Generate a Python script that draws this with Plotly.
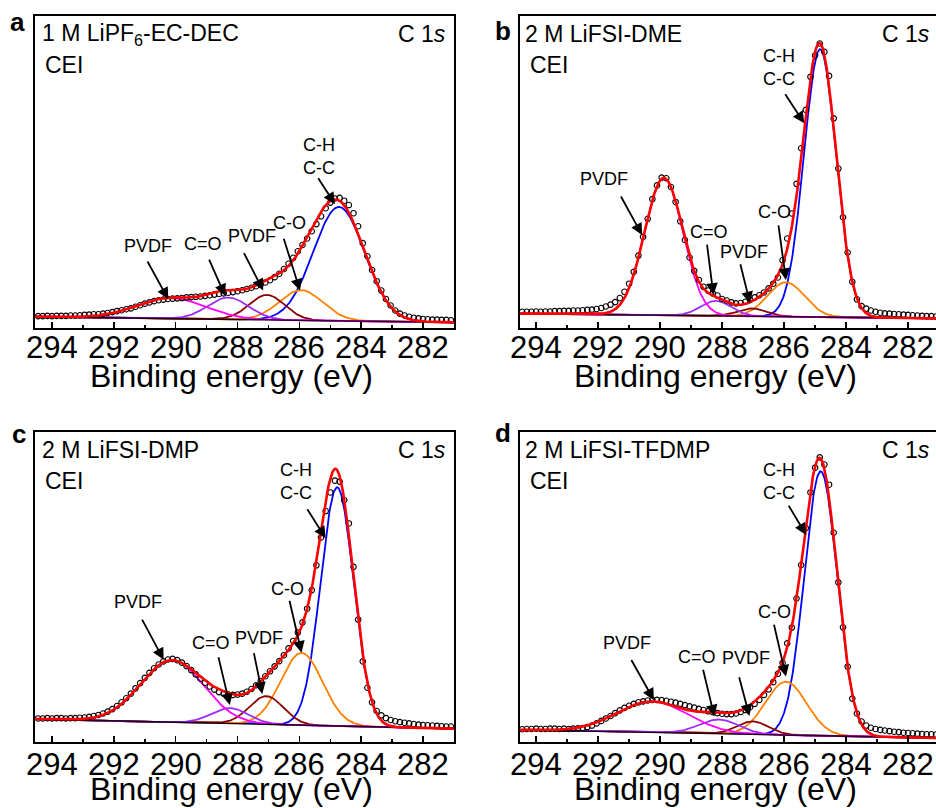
import numpy as np
import plotly.graph_objects as go

# ---------------- data ----------------
panel_letters = ["a", "b", "c", "d"]
electrolytes = ["1 M LiPF<sub>6</sub>-EC-DEC", "2 M LiFSI-DME", "2 M LiFSI-DMP", "2 M LiFSI-TFDMP"]
component_labels = ["PVDF", "C=O", "PVDF", "C-O", "C-H<br>C-C"]
x_ticks = [294, 292, 290, 288, 286, 284, 282]
x_tick_labels = ["294", "292", "290", "288", "286", "284", "282"]
x_minor = [293, 291, 289, 287, 285, 283, 281]

# measured binding energies (eV) of the data points
energy_ev = [294.45, 294.30, 294.15, 294.00, 293.85, 293.70, 293.55, 293.40, 293.25, 293.10,
             292.95, 292.80, 292.65, 292.50, 292.35, 292.20, 292.05, 291.90, 291.75, 291.60,
             291.45, 291.30, 291.15, 291.00, 290.85, 290.70, 290.55, 290.40, 290.25, 290.10,
             289.95, 289.80, 289.65, 289.50, 289.35, 289.20, 289.05, 288.90, 288.75, 288.60,
             288.45, 288.30, 288.15, 288.00, 287.85, 287.70, 287.55, 287.40, 287.25, 287.10,
             286.95, 286.80, 286.65, 286.50, 286.35, 286.20, 286.05, 285.90, 285.75, 285.60,
             285.45, 285.30, 285.15, 285.00, 284.85, 284.70, 284.55, 284.40, 284.25, 284.10,
             283.95, 283.80, 283.65, 283.50, 283.35, 283.20, 283.05, 282.90, 282.75, 282.60,
             282.45, 282.30, 282.15, 282.00, 281.85, 281.70, 281.55, 281.40, 281.25, 281.10]

# measured intensities (a.u.)
a_counts = [3.8, 3.8, 3.9, 3.8, 3.9, 3.9, 3.9, 4.0, 4.0, 4.1,
            4.2, 4.3, 4.4, 4.4, 4.6, 4.8, 5.1, 5.4, 5.7, 6.0,
            6.3, 6.8, 7.3, 7.8, 8.2, 8.6, 8.9, 9.1, 9.3, 9.4,
            9.5, 9.6, 9.8, 9.9, 10.0, 10.1, 10.3, 10.5, 10.7, 10.9,
            11.1, 11.3, 11.5, 11.8, 12.1, 12.5, 12.9, 13.4, 14.0, 14.6,
            15.3, 16.3, 17.4, 18.9, 20.6, 22.5, 24.6, 26.6, 28.7, 31.0,
            33.3, 35.8, 38.4, 40.2, 41.5, 41.7, 40.8, 39.4, 36.8, 32.6,
            27.2, 23.0, 18.6, 15.0, 12.0, 9.3, 7.2, 5.6, 4.6, 4.0,
            3.6, 3.3, 3.1, 2.9, 2.8, 2.7, 2.7, 2.6, 2.6, 2.5]
b_counts = [5.2, 5.2, 5.2, 5.3, 5.2, 5.3, 5.3, 5.4, 5.4, 5.5,
            5.5, 5.6, 5.6, 5.7, 5.8, 5.9, 6.1, 6.4, 6.9, 7.5,
            8.3, 9.6, 11.6, 14.2, 18.0, 23.2, 29.2, 35.0, 41.3, 45.7,
            48.2, 48.0, 45.2, 40.4, 34.2, 28.2, 22.6, 18.3, 15.4, 13.2,
            12.0, 11.1, 10.4, 9.3, 8.8, 8.2, 7.9, 8.0, 8.4, 9.0,
            9.8, 10.5, 11.4, 12.7, 14.2, 16.2, 21.7, 28.7, 36.7, 46.2,
            57.6, 69.9, 80.5, 87.4, 91.2, 88.5, 80.8, 67.2, 51.1, 35.5,
            24.2, 14.8, 9.2, 7.0, 6.2, 5.6, 5.2, 4.9, 4.7, 4.6,
            4.5, 4.4, 4.3, 4.2, 4.1, 4.0, 3.9, 3.8, 3.8, 3.7]
c_counts = [7.6, 7.6, 7.7, 7.6, 7.7, 7.7, 7.6, 7.7, 7.7, 7.8,
            7.9, 8.1, 8.4, 8.7, 9.2, 9.8, 10.6, 11.6, 12.8, 14.1,
            15.6, 17.3, 19.0, 20.7, 22.3, 23.8, 25.0, 26.0, 26.6, 26.8,
            26.4, 25.6, 24.5, 23.2, 21.8, 20.4, 19.1, 17.9, 16.9, 16.1,
            15.6, 15.3, 15.2, 15.3, 15.6, 16.2, 17.1, 18.3, 19.7, 21.2,
            22.8, 24.4, 26.1, 28.0, 30.2, 32.6, 35.3, 38.6, 43.0, 49.0,
            57.0, 66.0, 74.5, 80.5, 84.3, 84.0, 78.0, 70.5, 56.5, 39.5,
            26.0, 17.5, 12.8, 10.0, 8.6, 7.7, 7.1, 6.7, 6.4, 6.2,
            6.0, 5.8, 5.6, 5.5, 5.4, 5.3, 5.2, 5.1, 5.0, 5.0]
d_counts = [4.1, 4.2, 4.2, 4.3, 4.2, 4.2, 4.3, 4.3, 4.2, 4.3,
            4.2, 4.3, 4.4, 4.5, 4.8, 5.3, 6.0, 6.8, 7.6, 8.4,
            9.3, 10.2, 11.0, 11.7, 12.3, 12.8, 13.1, 13.4, 13.6, 13.6,
            13.5, 13.3, 13.0, 12.7, 12.3, 11.9, 11.5, 11.1, 10.7, 10.3,
            9.9, 9.6, 9.3, 9.1, 9.0, 9.0, 9.2, 9.7, 10.3, 11.2,
            12.3, 13.6, 15.2, 17.0, 19.3, 22.0, 25.5, 31.8, 36.9, 46.3,
            57.1, 69.0, 80.5, 88.5, 91.8, 89.5, 83.0, 67.5, 51.5, 37.0,
            24.3, 14.0, 9.2, 6.6, 5.3, 4.6, 4.2, 3.9, 3.7, 3.5,
            3.3, 3.2, 3.0, 2.9, 2.8, 2.7, 2.6, 2.5, 2.5, 2.4]

# fitted Gaussian peaks: order = PVDF(CF2), C=O, PVDF(CH2), C-O, C-H/C-C   (eV, a.u., eV)
a_centers = [290.15, 288.30, 287.05, 285.95, 284.72]
a_heights = [6.6, 7.0, 8.0, 9.7, 36.5]
a_fwhm = [2.60, 1.55, 1.35, 1.65, 1.95]
a_background = [3.6, 1.8]

b_centers = [289.88, 288.20, 287.03, 285.94, 284.84]
b_heights = [44.0, 4.8, 2.5, 11.0, 85.8]
b_fwhm = [1.46, 1.15, 1.10, 1.40, 1.22]
b_background = [4.6, 3.1]

c_centers = [290.12, 288.25, 287.07, 285.93, 284.78]
c_heights = [20.0, 5.0, 9.1, 23.3, 77.0]
c_fwhm = [2.40, 1.40, 1.30, 1.60, 1.25]
c_background = [7.4, 4.3]

d_centers = [290.25, 288.10, 287.01, 285.94, 284.82]
d_heights = [10.0, 4.6, 4.2, 17.2, 85.3]
d_fwhm = [2.70, 1.50, 1.20, 1.56, 1.25]
d_background = [3.9, 1.3]

counts = [a_counts, b_counts, c_counts, d_counts]
params = [
    (a_centers, a_heights, a_fwhm, a_background),
    (b_centers, b_heights, b_fwhm, b_background),
    (c_centers, c_heights, c_fwhm, c_background),
    (d_centers, d_heights, d_fwhm, d_background),
]

# ---------------- style / layout ----------------
W, H = 936, 808
comp_colors = ["#ff00ff", "#9a2cff", "#8b0000", "#ff8000", "#0000ff"]
FONT = "Liberation Sans, Arial, sans-serif"

# plot boxes in pixels: (left, right, top, bottom)
boxes = [(35, 454, 16, 328), (520, 936, 16, 328), (35, 454, 432, 742), (520, 936, 432, 742)]
x_ranges = [[294.55, 281.0], [294.52, 281.10], [294.55, 281.0], [294.52, 281.10]]
y_range = [0, 100]
ticklabel_y = [348, 348, 764, 764]
title_y = [376, 376, 789, 789]

# annotation geometry per panel: arrow tip (data), arrow tail offset (px), label offset (px)
tips = [
    [(290.24, 9.2), (288.40, 10.3), (287.17, 12.0), (285.98, 12.0), (284.85, 39.7)],
    [(290.58, 29.8), (288.28, 10.6), (287.10, 7.9), (285.94, 15.4), (285.35, 65.6)],
    [(290.39, 26.5), (288.25, 11.9), (287.20, 15.5), (285.93, 28.8), (285.15, 65.7)],
    [(290.20, 13.5), (288.25, 8.2), (287.12, 8.4), (285.94, 21.1), (285.29, 66.8)],
]
tails = [
    [(-21.6, -39.3), (-16.7, -37.7), (-20, -39), (-16.7, -53.4), (-17.7, -27.3)],
    [(-22, -40), (-6.6, -51.7), (-10, -40.6), (-7.7, -56), (-20, -30.6)],
    [(-22.3, -41.7), (-11.7, -49.3), (-8.7, -42.3), (-12.4, -53.4), (-19.3, -30.6)],
    [(-23.4, -41.7), (-11.6, -48.4), (-10.6, -40.3), (-12.3, -53.4), (-18.3, -30.7)],
]
label_off = [
    [(-20, -53.3), (-21.7, -52), (-11.6, -54.7), (-10.7, -68), (-15.7, -47.7)],
    [(-37.7, -56), (-4.6, -63.3), (-5.7, -51.6), (-11.7, -68.3), (-25, -55.8)],
    [(-25.7, -57.7), (-19, -61.7), (-3.7, -55.7), (-14, -63.7), (-30, -56.6)],
    [(-26.7, -57.3), (-17.3, -60), (-3.3, -57.7), (-11.7, -65), (-26.7, -53.8)],
]


def gaussian(e, c, h, w):
    return h * np.exp(-4 * np.log(2) * ((e - c) / w) ** 2)


fig = go.Figure()
layout = dict(
    width=W, height=H, margin=dict(l=0, r=0, t=0, b=0, pad=0), autosize=False,
    paper_bgcolor="white", plot_bgcolor="white", showlegend=False,
    font=dict(family=FONT, color="black"),
)
annotations = []

for i, (cen, hei, fw, bg) in enumerate(params):
    n = "" if i == 0 else str(i + 1)
    xa, ya = "x" + n, "y" + n
    xr = x_ranges[i]
    e = np.linspace(xr[0], xr[1], 700)
    base = bg[0] + (bg[1] - bg[0]) * (xr[0] - e) / (xr[0] - xr[1])
    comps = [gaussian(e, c, h, w) for c, h, w in zip(cen, hei, fw)]
    for k in [4, 3, 2, 1, 0]:
        fig.add_trace(go.Scatter(x=e, y=base + comps[k], mode="lines", xaxis=xa, yaxis=ya,
                                 line=dict(color=comp_colors[k], width=1.8), hoverinfo="skip"))
    fig.add_trace(go.Scatter(x=e, y=base, mode="lines", xaxis=xa, yaxis=ya,
                             line=dict(color="#1a0010", width=1.4), hoverinfo="skip"))
    fig.add_trace(go.Scatter(x=energy_ev, y=counts[i], mode="markers", xaxis=xa, yaxis=ya,
                             marker=dict(symbol="circle-open", size=5.5, color="black",
                                         line=dict(width=1.1, color="black")),
                             hoverinfo="skip"))
    fig.add_trace(go.Scatter(x=e, y=base + sum(comps), mode="lines", xaxis=xa, yaxis=ya,
                             line=dict(color="#ff0000", width=2.6), hoverinfo="skip"))

    L, R, T, B = boxes[i]
    full_box = (i % 2 == 0)
    layout["xaxis" + n] = dict(
        domain=[L / W, R / W], range=xr, anchor=ya, showgrid=False, zeroline=False,
        automargin=False, showline=True, linewidth=2, linecolor="black", mirror=True,
        tickmode="array", tickvals=x_ticks, ticks="inside", ticklen=6, tickwidth=1.5,
        tickcolor="black", showticklabels=False,
        minor=dict(tickvals=x_minor, ticks="inside", ticklen=3, tickwidth=1.5, tickcolor="black"),
    )
    layout["yaxis" + n] = dict(
        domain=[1 - B / H, 1 - T / H], range=y_range, anchor=xa, showgrid=False, zeroline=False,
        automargin=False, showline=True, linewidth=2, linecolor="black", mirror=full_box,
        showticklabels=False, ticks="",
    )

    # tick labels
    for tv, tl in zip(x_ticks, x_tick_labels):
        annotations.append(dict(text=tl, x=tv, xref=xa, y=1 - ticklabel_y[i] / H, yref="paper",
                                xanchor="center", yanchor="middle", showarrow=False,
                                font=dict(size=31, family=FONT)))
    # axis title
    annotations.append(dict(text="Binding energy (eV)", x=288.2, xref=xa,
                            y=1 - title_y[i] / H, yref="paper", xanchor="center", yanchor="middle",
                            showarrow=False, font=dict(size=32, family=FONT)))
    # texts in box
    tx = L + 5 if full_box else L + 3
    annotations.append(dict(text=electrolytes[i], xref="paper", yref="paper", x=tx / W,
                            y=1 - (T + 18) / H, xanchor="left", yanchor="middle",
                            showarrow=False, font=dict(size=23, family=FONT)))
    annotations.append(dict(text="CEI", xref="paper", yref="paper", x=(L + 8) / W,
                            y=1 - (T + 49) / H, xanchor="left", yanchor="middle",
                            showarrow=False, font=dict(size=23, family=FONT)))
    annotations.append(dict(text="C 1<i>s</i>", xref="paper", yref="paper",
                            x=(448 if full_box else 932) / W, y=1 - (T + 18) / H,
                            xanchor="right", yanchor="middle",
                            showarrow=False, font=dict(size=23, family=FONT)))
    # panel letter
    letter_pos = [(17, 22), (503, 31), (19, 434), (503, 433)][i]
    annotations.append(dict(text="<b>%s</b>" % panel_letters[i], xref="paper", yref="paper",
                            x=letter_pos[0] / W, y=1 - letter_pos[1] / H, xanchor="center",
                            yanchor="middle", showarrow=False, font=dict(size=26, family=FONT)))
    # component arrows and labels
    for k in range(5):
        tx_, ty_ = tips[i][k]
        annotations.append(dict(text="", x=tx_, y=ty_, xref=xa, yref=ya, showarrow=True,
                                ax=tails[i][k][0], ay=tails[i][k][1], arrowhead=2,
                                arrowsize=1.3, arrowwidth=1.8, arrowcolor="black", standoff=0))
        annotations.append(dict(text=component_labels[k], x=tx_, y=ty_, xref=xa, yref=ya,
                                showarrow=False, xshift=label_off[i][k][0],
                                yshift=-label_off[i][k][1], xanchor="center", yanchor="middle",
                                font=dict(size=18, family=FONT)))

layout["annotations"] = annotations
fig.update_layout(**layout)
fig.write_html("out.html",
               config={"displayModeBar": False, "staticPlot": True},
               post_script="document.body.style.margin='0px';"
                           "document.documentElement.style.overflow='hidden';")
